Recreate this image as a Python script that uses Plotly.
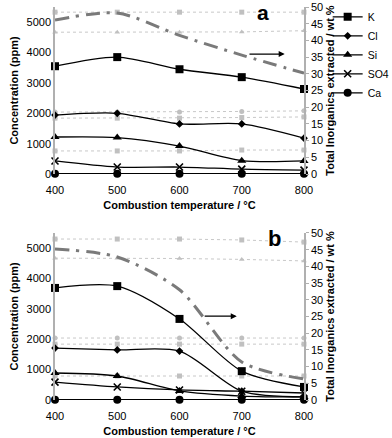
import plotly.graph_objects as go

temps = [400, 500, 600, 700, 800]

# Panel a
a_K = [3550, 3850, 3450, 3190, 2800]
a_Cl = [1940, 2000, 1650, 1650, 1180]
a_Si = [1220, 1200, 920, 440, 430]
a_SO4 = [430, 230, 230, 160, 130]
a_Ca = [10, 10, 10, 10, 10]
a_total = [46.1, 48.2, 41.5, 35.6, 30.2]
a_ghost = [[5330, 5330, 5330, 5330, 5330],
           [4670, 4670, 4670, 4680, 4720],
           [2040, 2040, 2040, 2060, 2080],
           [1840, 1840, 1840, 1860, 1880],
           [760, 760, 760, 790, 790]]

# Panel b
b_K = [3690, 3750, 2670, 950, 430]
b_Cl = [1710, 1650, 1610, 290, 100]
b_Si = [890, 790, 300, 130, 100]
b_SO4 = [590, 430, 330, 290, 230]
b_Ca = [10, 10, 10, 10, 10]
b_total = [45.2, 42.8, 33.0, 11.4, 6.3]
b_ghost = [[5300, 5300, 5300, 5270, 5200],
           [4670, 4670, 4660, 4630, 4580],
           [2040, 2040, 2040, 2040, 2040],
           [1840, 1840, 1840, 1840, 1840],
           [790, 790, 790, 790, 790]]

names = ["K", "Cl", "Si", "SO4", "Ca"]
symbols = ["square", "diamond", "triangle-up", "x-thin", "circle"]
sizes = [8, 6, 8, 7, 8]

FONT = "Liberation Sans, Arial, sans-serif"
fig = go.Figure()

ghost_sym = ["square", "triangle-up", "circle", "square", "square"]

def add_panel(series, total, ghosts, xa, ya, ya2, showlegend):
    for g, s in zip(ghosts, ghost_sym):
        fig.add_trace(go.Scatter(x=temps, y=g, mode="lines+markers", xaxis=xa, yaxis=ya,
                                 line=dict(color="#c8c8c8", width=1, dash="dot"),
                                 marker=dict(symbol=s, size=5, color="#c0c0c0"),
                                 showlegend=False, hoverinfo="skip", cliponaxis=False))
    fig.add_trace(go.Scatter(x=temps, y=total, mode="lines", xaxis=xa, yaxis=ya2,
                             line=dict(color="#7a7a7a", width=3, dash="14px,7px,3px,7px", shape="spline", smoothing=0.8),
                             showlegend=False, cliponaxis=False))
    for vals, n, sym, sz in zip(series, names, symbols, sizes):
        mk = dict(symbol=sym, size=sz, color="black")
        if sym == "x-thin":
            mk["line"] = dict(width=1.6, color="black")
        fig.add_trace(go.Scatter(x=temps, y=vals, mode="lines+markers", name=n, xaxis=xa, yaxis=ya,
                                 line=dict(color="black", width=1.3, shape="spline", smoothing=0.8),
                                 marker=mk, showlegend=showlegend, cliponaxis=False))

add_panel([a_K, a_Cl, a_Si, a_SO4, a_Ca], a_total, a_ghost, "x", "y", "y2", True)
add_panel([b_K, b_Cl, b_Si, b_SO4, b_Ca], b_total, b_ghost, "x2", "y3", "y4", False)

tickf = dict(family=FONT, size=11, color="black")
titlef = dict(family=FONT, size=11, color="black", weight="bold")

xcommon = dict(range=[400, 800], tickvals=temps, showgrid=False, zeroline=False, showline=False,
               ticks="outside", ticklen=6, tickcolor="rgba(0,0,0,0)", tickfont=tickf, automargin=False,
               title=dict(text="Combustion temperature / °C", font=titlef, standoff=6))
yleft = dict(range=[0, 5500], tickvals=[0, 1000, 2000, 3000, 4000, 5000], showgrid=False, zeroline=False,
             showline=True, linecolor="#b0b0b0", linewidth=1.5, ticks="", tickfont=tickf, automargin=False,
             title=dict(text="Concentration (ppm)", font=titlef, standoff=6))
yright = dict(range=[0, 50], tickvals=list(range(0, 51, 5)), showgrid=False, zeroline=False,
              showline=True, linecolor="#b0b0b0", linewidth=1.5, ticks="outside", ticklen=3, tickcolor="#b0b0b0",
              tickfont=tickf, side="right", automargin=False,
              title=dict(text="Total Inorganics extracted / wt %", font=titlef, standoff=4))

fig.update_layout(
    width=392, height=438,
    margin=dict(l=55, r=88, t=7, b=38, autoexpand=False),
    plot_bgcolor="white", paper_bgcolor="white",
    font=dict(family=FONT, size=11, color="black"),
    xaxis=dict(domain=[0, 1], anchor="y", **xcommon),
    yaxis=dict(domain=[0.575, 1], anchor="x", **yleft),
    yaxis2=dict(overlaying="y", anchor="x", **yright),
    xaxis2=dict(domain=[0, 1], anchor="y3", **xcommon),
    yaxis3=dict(domain=[0, 0.425], anchor="x2", **yleft),
    yaxis4=dict(overlaying="y3", anchor="x2", **yright),
    legend=dict(x=1.095, y=1.012, xanchor="left", yanchor="top", font=dict(family=FONT, size=10.5),
                tracegroupgap=0, itemwidth=30, bgcolor="rgba(0,0,0,0)", borderwidth=0),
    showlegend=True,
)

fig.add_annotation(x=769, y=35.9, ax=710, ay=35.9, xref="x", yref="y2", axref="x", ayref="y2",
                   showarrow=True, arrowhead=2, arrowsize=1, arrowwidth=1.2, arrowcolor="black", text="")
fig.add_annotation(x=692, y=25.1, ax=638, ay=25.1, xref="x2", yref="y4", axref="x2", ayref="y4",
                   showarrow=True, arrowhead=2, arrowsize=1, arrowwidth=1.2, arrowcolor="black", text="")

fig.add_annotation(x=0.865, y=1.0175, xref="paper", yref="paper", text="<b>a</b>", showarrow=False,
                   font=dict(family=FONT, size=21, color="black"), yanchor="top", borderpad=0)
fig.add_annotation(x=752, y=48.3, xref="x2", yref="y4", text="<b>b</b>", showarrow=False,
                   font=dict(family=FONT, size=22, color="black"), yanchor="middle")

fig.write_html("out.html", post_script="document.body.style.margin='0px';",
               config={"displayModeBar": False})
